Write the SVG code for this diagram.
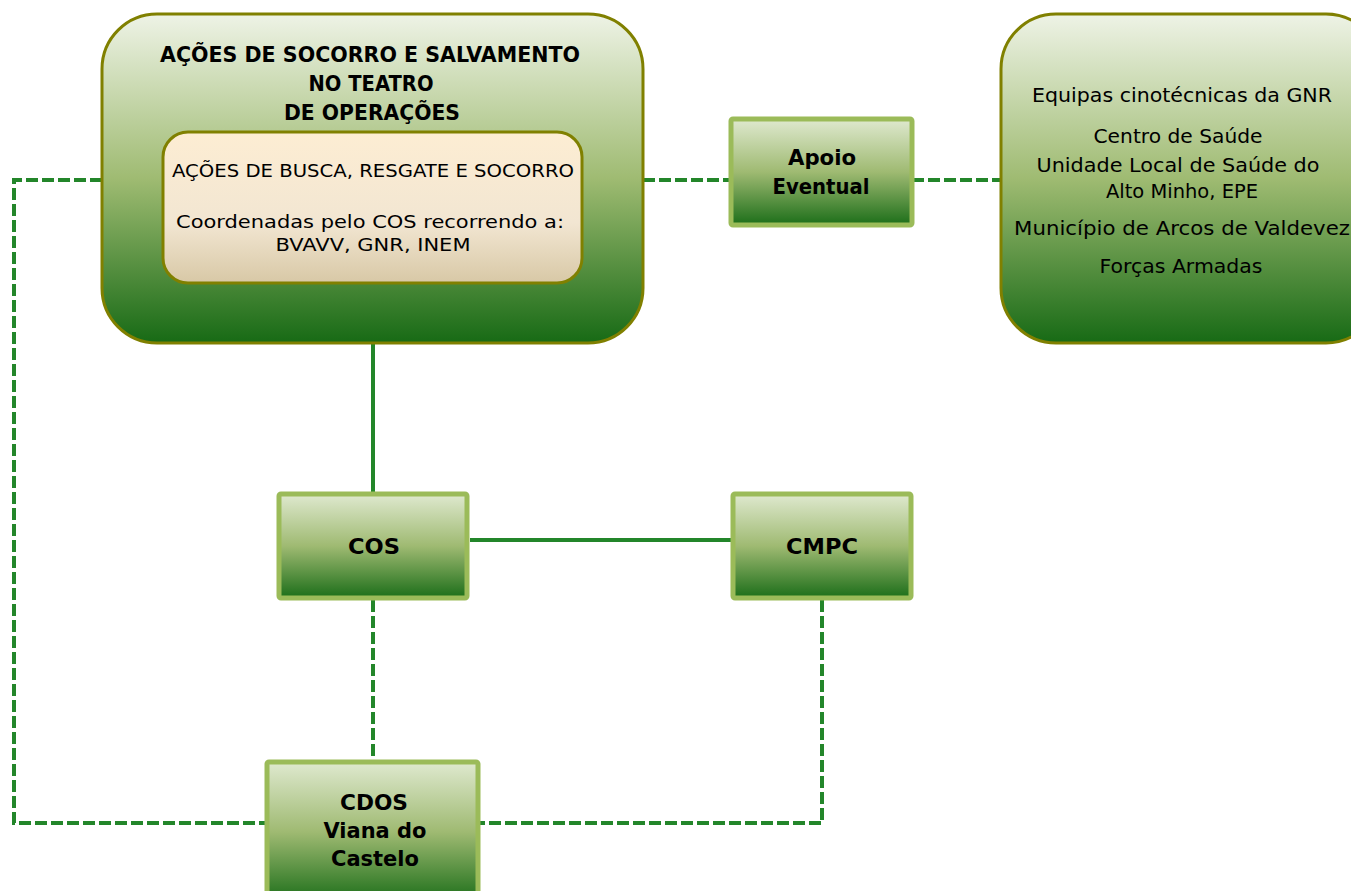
<svg xmlns="http://www.w3.org/2000/svg" width="1351" height="891" viewBox="0 0 1351 891">
<defs>
<linearGradient id="gBig" x1="0" y1="0" x2="0" y2="1">
<stop offset="0" stop-color="#eef3e6"/>
<stop offset="0.5" stop-color="#9fbb72"/>
<stop offset="1" stop-color="#176a15"/>
</linearGradient>
<linearGradient id="gInner" x1="0" y1="0" x2="0" y2="1">
<stop offset="0" stop-color="#fdedd3"/>
<stop offset="0.6" stop-color="#f2e6d2"/>
<stop offset="1" stop-color="#d8c8a6"/>
</linearGradient>
<linearGradient id="gSmall" x1="0" y1="0" x2="0" y2="1">
<stop offset="0" stop-color="#dfe9cf"/>
<stop offset="0.5" stop-color="#9fba72"/>
<stop offset="1" stop-color="#1c6e19"/>
</linearGradient>
<style>
.big{fill:url(#gBig);stroke:#808000;stroke-width:3}
.inner{fill:url(#gInner);stroke:#808000;stroke-width:3}
.small{fill:url(#gSmall);stroke:#9bbb59;stroke-width:5}
.dash{fill:none;stroke:#23862a;stroke-width:4;stroke-dasharray:12 4}
.solid{fill:none;stroke:#23862a;stroke-width:4}
text{font-family:"DejaVu Sans","Liberation Sans",sans-serif;fill:#000;text-anchor:middle}
.t{font-weight:bold;font-size:21px}
.b{font-weight:bold;font-size:21px}
.n{font-size:18px}
.r{font-size:19px}
</style>
</defs>
<g id="connectors">
<path class="dash" d="M102 180 H14 V823 H265"/>
<path class="dash" d="M643 180 H729"/>
<path class="dash" d="M912 180 H1001"/>
<path class="solid" d="M373 343 V492"/>
<path class="solid" d="M470 540 H731"/>
<path class="dash" d="M373 600 V760"/>
<path class="dash" d="M822 600 V823 H479"/>
</g>
<g id="node-teatro">
<rect class="big" x="102" y="14" width="541" height="329" rx="55" ry="55"/>
<text class="t" x="370" y="62" textLength="420" lengthAdjust="spacingAndGlyphs">AÇÕES DE SOCORRO E SALVAMENTO</text>
<text class="t" x="371" y="91" textLength="125" lengthAdjust="spacingAndGlyphs">NO TEATRO</text>
<text class="t" x="372" y="120" textLength="176" lengthAdjust="spacingAndGlyphs">DE OPERAÇÕES</text>
</g>
<g id="node-busca">
<rect class="inner" x="163" y="132" width="419" height="151" rx="25" ry="25"/>
<text class="n" x="373" y="177" textLength="402" lengthAdjust="spacingAndGlyphs">AÇÕES DE BUSCA, RESGATE E SOCORRO</text>
<text class="n" x="370" y="228" textLength="388" lengthAdjust="spacingAndGlyphs">Coordenadas pelo COS recorrendo a:</text>
<text class="n" x="373" y="251" textLength="195" lengthAdjust="spacingAndGlyphs">BVAVV, GNR, INEM</text>
</g>
<g id="node-entidades">
<rect class="big" x="1001" y="14" width="380" height="329" rx="55" ry="55"/>
<text class="r" x="1182" y="102" textLength="300" lengthAdjust="spacingAndGlyphs">Equipas cinotécnicas da GNR</text>
<text class="r" x="1178" y="143" textLength="169" lengthAdjust="spacingAndGlyphs">Centro de Saúde</text>
<text class="r" x="1178" y="172" textLength="283" lengthAdjust="spacingAndGlyphs">Unidade Local de Saúde do</text>
<text class="r" x="1182" y="198" textLength="152" lengthAdjust="spacingAndGlyphs">Alto Minho, EPE</text>
<text class="r" x="1182" y="235" textLength="336" lengthAdjust="spacingAndGlyphs">Município de Arcos de Valdevez</text>
<text class="r" x="1181" y="273" textLength="163" lengthAdjust="spacingAndGlyphs">Forças Armadas</text>
</g>
<g id="node-apoio">
<rect class="small" x="731" y="119" width="181" height="106" rx="2"/>
<text class="b" x="822" y="165" textLength="68" lengthAdjust="spacingAndGlyphs">Apoio</text>
<text class="b" x="821" y="194" textLength="97" lengthAdjust="spacingAndGlyphs">Eventual</text>
</g>
<g id="node-cos">
<rect class="small" x="279" y="494" width="188" height="104" rx="2"/>
<text class="b" x="374" y="554" textLength="52" lengthAdjust="spacingAndGlyphs">COS</text>
</g>
<g id="node-cmpc">
<rect class="small" x="733" y="494" width="178" height="104" rx="2"/>
<text class="b" x="822" y="554" textLength="72" lengthAdjust="spacingAndGlyphs">CMPC</text>
</g>
<g id="node-cdos">
<rect class="small" x="267" y="762" width="211" height="140" rx="2"/>
<text class="b" x="374" y="810" textLength="68" lengthAdjust="spacingAndGlyphs">CDOS</text>
<text class="b" x="375" y="838" textLength="103" lengthAdjust="spacingAndGlyphs">Viana do</text>
<text class="b" x="375" y="866" textLength="88" lengthAdjust="spacingAndGlyphs">Castelo</text>
</g>
</svg>
